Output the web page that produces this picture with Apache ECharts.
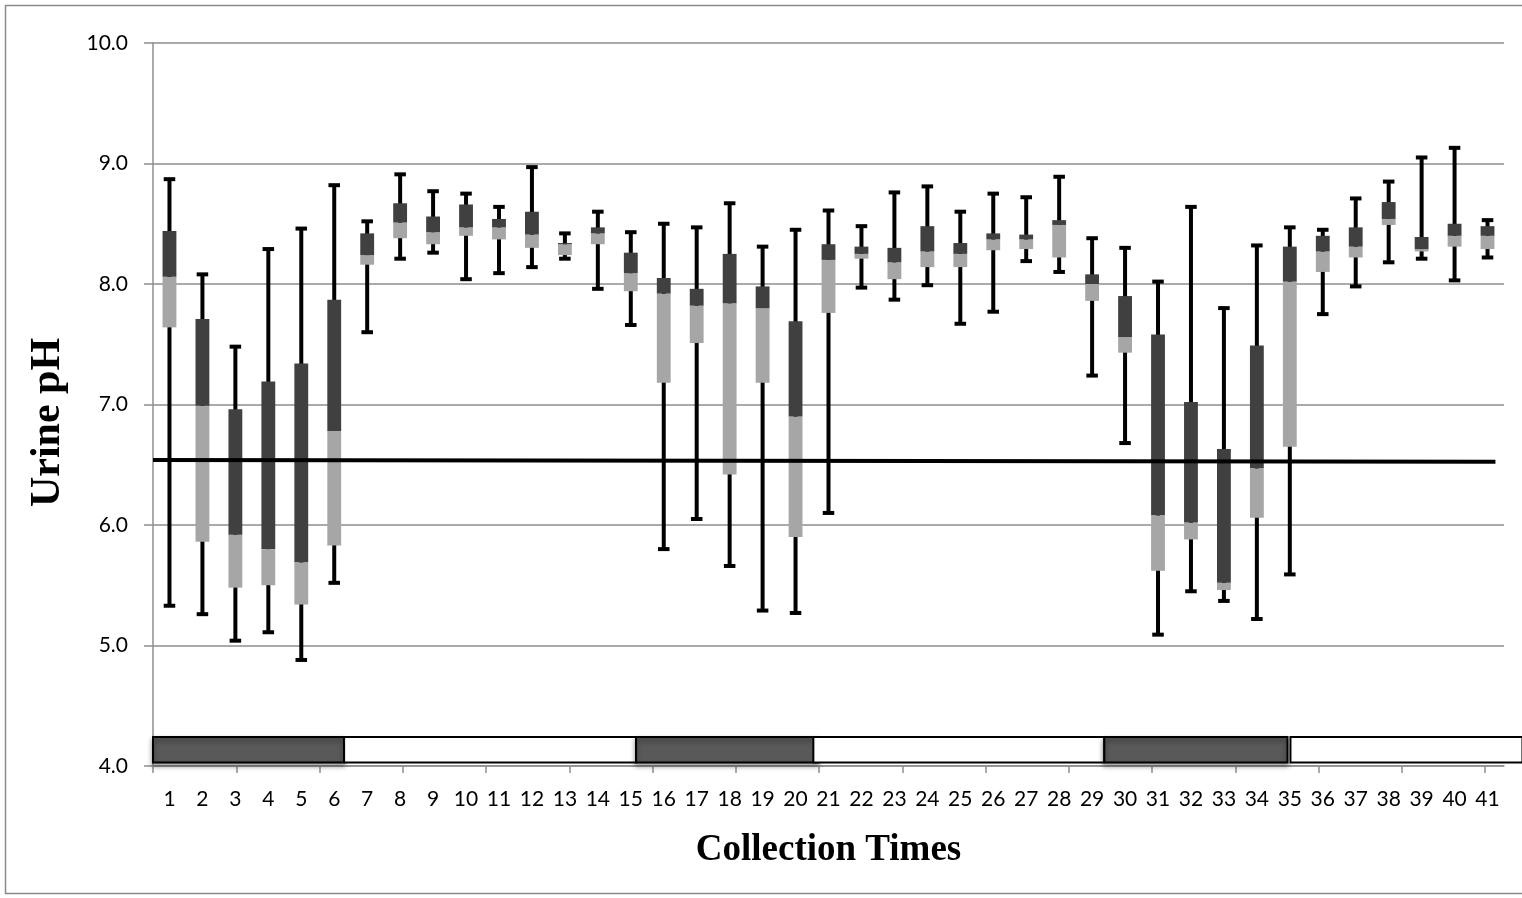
<!DOCTYPE html>
<html>
<head>
<meta charset="utf-8">
<title>Urine pH</title>
<script src="https://cdn.jsdelivr.net/npm/echarts@6/dist/echarts.min.js"></script>
<style>
  html, body { margin: 0; padding: 0; background: #fff; }
  #main { width: 1522px; height: 898px; }
</style>
</head>
<body>
<div id="main"></div>
<script>
// collection times 1..41
var times = [];
for (var i = 1; i <= 41; i++) times.push(String(i));

// box plot values (urine pH)
var mins    = [5.33,5.26,5.04,5.11,4.88,5.52,7.60,8.21,8.26,8.04,8.09,8.14,8.21,7.96,7.66,5.80,6.05,5.66,5.29,5.27,6.10,7.97,7.87,7.99,7.67,7.77,8.19,8.10,7.24,6.68,5.09,5.45,5.37,5.22,5.59,7.75,7.98,8.18,8.21,8.03,8.22];
var q1s     = [7.64,5.86,5.48,5.50,5.34,5.83,8.16,8.38,8.33,8.40,8.37,8.30,8.24,8.33,7.94,7.18,7.51,6.42,7.18,5.90,7.76,8.21,8.04,8.14,8.14,8.28,8.29,8.22,7.86,7.43,5.62,5.88,5.46,6.06,6.65,8.10,8.22,8.49,8.27,8.31,8.29];
var medians = [8.06,6.99,5.92,5.80,5.69,6.78,8.24,8.51,8.43,8.47,8.47,8.41,8.33,8.42,8.09,7.92,7.82,7.84,7.80,6.90,8.20,8.25,8.18,8.27,8.25,8.37,8.37,8.49,8.00,7.56,6.08,6.02,5.52,6.47,8.02,8.27,8.31,8.54,8.29,8.40,8.40];
var q3s     = [8.44,7.71,6.96,7.19,7.34,7.87,8.42,8.67,8.56,8.66,8.54,8.60,8.34,8.47,8.26,8.05,7.96,8.25,7.98,7.69,8.33,8.31,8.30,8.48,8.34,8.42,8.41,8.53,8.08,7.90,7.58,7.02,6.63,7.49,8.31,8.40,8.47,8.68,8.39,8.50,8.48];
var maxs    = [8.87,8.08,7.48,8.29,8.46,8.82,8.52,8.91,8.77,8.75,8.64,8.97,8.42,8.60,8.43,8.50,8.47,8.67,8.31,8.45,8.61,8.48,8.76,8.81,8.60,8.75,8.72,8.89,8.38,8.30,8.02,8.64,7.80,8.32,8.47,8.45,8.71,8.85,9.05,9.13,8.53];

// reference pH line (in collection-time units)
var refLineX = [0.5, 41.24];
var refLineY = [6.54, 6.525];

// dark / light periods drawn along the bottom (collection-time units)
var periodStart = [0.5, 6.30, 15.16, 20.54, 29.37, 35.02];
var periodEnd   = [6.30, 15.16, 20.69, 29.37, 34.93, 42.06];
var periodDark  = [true, false, true, false, true, false];

var yTicks = [4, 5, 6, 7, 8, 9, 10];

var chart = echarts.init(document.getElementById('main'));

var boxData = times.map(function (t, i) {
  return [i, mins[i], q1s[i], medians[i], q3s[i], maxs[i]];
});
var periodData = periodStart.map(function (s, i) {
  return [s, periodEnd[i], periodDark[i] ? 1 : 0];
});
var refData = refLineX.map(function (x, i) { return [x, refLineY[i]]; });

var labelFont = 'Lato, "Liberation Sans", sans-serif';
var titleFont = '"Liberation Serif", "Times New Roman", serif';
var gridColor = '#8e8e8e';

var option = {
  animation: false,
  backgroundColor: '#fff',
  graphic: [{
    type: 'rect',
    shape: { x: 5.5, y: 5.5, width: 1530, height: 888 },
    style: { fill: 'none', stroke: '#8a8a8a', lineWidth: 1.5 },
    silent: true
  }],
  grid: [
    { left: 153, right: 18, top: 43, bottom: 132 },
    { left: 153, width: 1332, bottom: 132, height: 10 }
  ],
  xAxis: [
    {
      type: 'category',
      gridIndex: 0,
      data: times,
      boundaryGap: true,
      axisLine: { lineStyle: { color: gridColor, width: 1.5 } },
      axisTick: { show: false },
      axisLabel: { color: '#000', fontSize: 21, fontFamily: labelFont, margin: 23, interval: 0 },
      name: 'Collection Times',
      nameLocation: 'middle',
      nameGap: 66,
      nameTextStyle: { fontFamily: titleFont, fontWeight: 'bold', fontSize: 37, color: '#000' }
    },
    {
      type: 'value',
      gridIndex: 0,
      min: 0.5,
      max: 41.5,
      show: false
    },
    {
      type: 'value',
      gridIndex: 1,
      min: 0,
      max: 16,
      interval: 1,
      axisLine: { show: false },
      axisTick: { show: true, length: 7, lineStyle: { color: gridColor, width: 1.5 } },
      axisLabel: { show: false },
      splitLine: { show: false }
    }
  ],
  yAxis: [
    {
      type: 'value',
      gridIndex: 0,
      min: yTicks[0],
      max: yTicks[yTicks.length - 1],
      interval: 1,
      axisLine: { show: true, lineStyle: { color: gridColor, width: 1.5 } },
      axisTick: { show: true, length: 9, lineStyle: { color: gridColor, width: 1.5 } },
      axisLabel: {
        color: '#000', fontSize: 21, fontFamily: labelFont, margin: 25,
        formatter: function (v) { return v.toFixed(1); }
      },
      splitLine: { lineStyle: { color: gridColor, width: 1.5 } },
      name: 'Urine pH',
      nameLocation: 'middle',
      nameGap: 84,
      nameRotate: 90,
      nameTextStyle: { fontFamily: titleFont, fontWeight: 'bold', fontSize: 42, color: '#000', padding: [0, 36, 0, 0] }
    },
    { type: 'value', gridIndex: 1, show: false, min: 0, max: 1 }
  ],
  series: [
    {
      type: 'custom',
      name: 'periods',
      xAxisIndex: 1,
      yAxisIndex: 0,
      clip: false,
      z: 3,
      data: periodData,
      renderItem: function (params, api) {
        var p0 = api.coord([api.value(0), 4.24]);
        var p1 = api.coord([api.value(1), 4.03]);
        var dark = api.value(2) === 1;
        return {
          type: 'rect',
          shape: { x: p0[0], y: p0[1], width: p1[0] - p0[0], height: p1[1] - p0[1] },
          style: {
            fill: dark ? '#595959' : '#ffffff',
            stroke: '#000',
            lineWidth: 2,
            shadowBlur: dark ? 5 : 0,
            shadowOffsetY: dark ? 3 : 0,
            shadowColor: 'rgba(0,0,0,0.45)'
          }
        };
      }
    },
    {
      type: 'custom',
      name: 'boxes',
      xAxisIndex: 0,
      yAxisIndex: 0,
      z: 4,
      data: boxData,
      encode: { x: 0, y: [1, 2, 3, 4, 5] },
      renderItem: function (params, api) {
        var x = api.value(0);
        var pMin = api.coord([x, api.value(1)]);
        var pQ1 = api.coord([x, api.value(2)]);
        var pMed = api.coord([x, api.value(3)]);
        var pQ3 = api.coord([x, api.value(4)]);
        var pMax = api.coord([x, api.value(5)]);
        var cx = pMin[0];
        var bw = api.size([1, 0])[0] * 0.42;
        var cw = api.size([1, 0])[0] * 0.35;
        return {
          type: 'group',
          children: [
            { type: 'line', shape: { x1: cx, y1: pMin[1], x2: cx, y2: pMax[1] }, style: { stroke: '#000', lineWidth: 4 } },
            { type: 'line', shape: { x1: cx - cw / 2, y1: pMin[1], x2: cx + cw / 2, y2: pMin[1] }, style: { stroke: '#000', lineWidth: 4 } },
            { type: 'line', shape: { x1: cx - cw / 2, y1: pMax[1], x2: cx + cw / 2, y2: pMax[1] }, style: { stroke: '#000', lineWidth: 4 } },
            { type: 'rect', shape: { x: cx - bw / 2, y: pMed[1], width: bw, height: pQ1[1] - pMed[1] }, style: { fill: '#a6a6a6' } },
            { type: 'rect', shape: { x: cx - bw / 2, y: pQ3[1], width: bw, height: pMed[1] - pQ3[1] }, style: { fill: '#404040' } }
          ]
        };
      }
    },
    {
      type: 'line',
      name: 'reference',
      xAxisIndex: 1,
      yAxisIndex: 0,
      z: 5,
      symbol: 'none',
      data: refData,
      lineStyle: { color: '#000', width: 4 }
    },
    {
      type: 'scatter',
      xAxisIndex: 2,
      yAxisIndex: 1,
      data: []
    }
  ]
};

chart.setOption(option);
</script>
</body>
</html>
